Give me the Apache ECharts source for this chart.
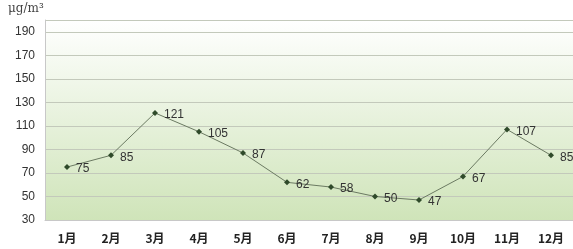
<!DOCTYPE html>
<html>
<head>
<meta charset="utf-8">
<script src="https://cdn.jsdelivr.net/npm/echarts@6/dist/echarts.min.js"></script>
<style>
  html, body { margin: 0; padding: 0; background: #fff; }
  #chart { width: 573px; height: 249px; }
</style>
</head>
<body>
<div id="chart"></div>
<script>
const months = ['1月', '2月', '3月', '4月', '5月', '6月', '7月', '8月', '9月', '10月', '11月', '12月'];
const values = [75, 85, 121, 105, 87, 62, 58, 50, 47, 67, 107, 85];

const chart = echarts.init(document.getElementById('chart'));
chart.setOption({
    animation: false,
    grid: {
        left: 45, right: -4, top: 20, bottom: 29,
        show: true,
        borderWidth: 0,
        backgroundColor: new echarts.graphic.LinearGradient(0, 0, 0, 1, [
            { offset: 0, color: '#ffffff' },
            { offset: 1, color: '#cfe4b9' }
        ])
    },
    graphic: [{
        type: 'text', left: 8, top: 3,
        style: { text: 'μg/m³', font: '12px "DejaVu Serif", serif', fill: '#444' }
    }],
    xAxis: {
        type: 'category',
        data: months,
        boundaryGap: true,
        axisLine: { lineStyle: { color: '#c8c8c8' } },
        axisTick: { inside: true, length: 3, lineStyle: { color: '#bbb' } },
        axisLabel: {
            color: '#222', fontWeight: 'bold', fontSize: 12, margin: 12,
            fontFamily: '"Noto Sans CJK SC", serif'
        }
    },
    yAxis: {
        type: 'value',
        min: 30, max: 200, interval: 20,
        axisLine: { show: true, lineStyle: { color: '#c8c8c8' } },
        axisTick: { show: false },
        axisLabel: { color: '#333', fontSize: 12, margin: 10, showMaxLabel: false, fontFamily: 'Liberation Sans, Arial' },
        splitLine: { lineStyle: { color: '#c3c9bb', width: 1 } }
    },
    series: [{
        type: 'line',
        data: values,
        symbol: 'diamond',
        symbolSize: 6,
        itemStyle: { color: '#2f4a2a' },
        lineStyle: { color: '#6b7a62', width: 1 },
        label: {
            show: true, position: 'right', distance: 6, offset: [0, 2],
            color: '#333', fontSize: 12, fontFamily: 'Liberation Sans, Arial'
        }
    }]
});
</script>
</body>
</html>
